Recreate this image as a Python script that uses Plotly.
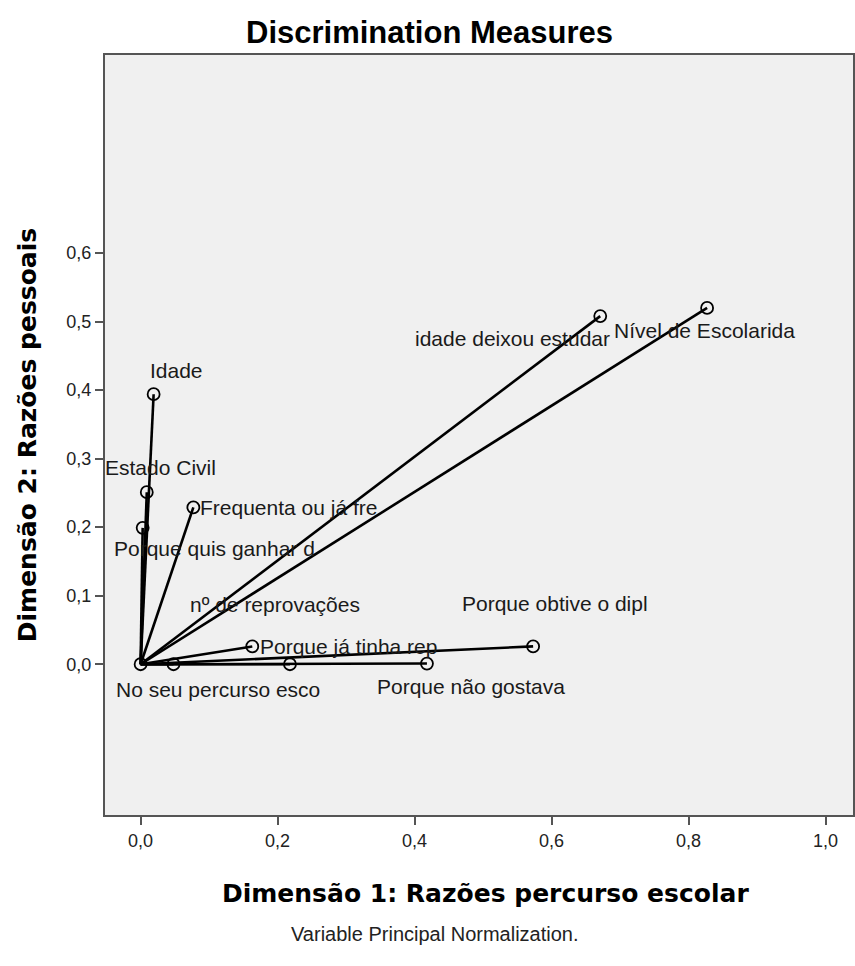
import plotly.graph_objects as go

# Discrimination measures per variable (dimension 1, dimension 2)
variables = [
    "Nível de Escolarida",
    "idade deixou estudar",
    "Idade",
    "Estado Civil",
    "Frequenta ou já fre",
    "Porque quis ganhar d",
    "nº de reprovações",
    "Porque obtive o dipl",
    "Porque já tinha rep",
    "Porque não gostava",
    "No seu percurso esco",
    "",
]
dim1 = [0.827, 0.671, 0.019, 0.009, 0.077, 0.003, 0.218, 0.573, 0.163, 0.418, 0.000, 0.048]
dim2 = [0.520, 0.508, 0.394, 0.251, 0.229, 0.199, 0.000, 0.026, 0.026, 0.001, 0.000, 0.000]

x_ticks = [0.0, 0.2, 0.4, 0.6, 0.8, 1.0]
y_ticks = [0.0, 0.1, 0.2, 0.3, 0.4, 0.5, 0.6]

# label placement (pixel offsets from each point, anchor)
label_style = [
    (-3, 23, "center"),
    (-88, 22, "center"),
    (23, -24, "center"),
    (14, -25, "center"),
    (5, 0, "left"),
    (72, 21, "center"),
    (-15, -60, "center"),
    (22, -43, "center"),
    (6, 0, "left"),
    (44, 23, "center"),
    (77, 25, "center"),
    (0, 0, "center"),
]

fig = go.Figure()

# vectors from the origin
for x, y in zip(dim1, dim2):
    fig.add_trace(go.Scatter(
        x=[0, x], y=[0, y], mode="lines",
        line=dict(color="black", width=2.6),
        hoverinfo="skip", showlegend=False,
    ))

# end points
fig.add_trace(go.Scatter(
    x=dim1, y=dim2, mode="markers",
    marker=dict(symbol="circle-open", size=12, color="black", line=dict(width=1.8)),
    hovertext=variables, showlegend=False,
))

for name, x, y, (dx, dy, anchor) in zip(variables, dim1, dim2, label_style):
    if not name:
        continue
    fig.add_annotation(
        x=x, y=y, xref="x", yref="y", text=name, showarrow=False,
        xanchor=anchor, yanchor="middle", xshift=dx, yshift=-dy,
        font=dict(family="Liberation Sans, Arial", size=21, color="#1a1a1a"),
    )

axis_common = dict(
    showgrid=False, zeroline=False, showline=True, mirror=True,
    linecolor="#555555", linewidth=2,
    ticks="outside", ticklen=8, tickwidth=2, tickcolor="#555555",
    tickfont=dict(family="Liberation Sans, Arial", size=18, color="#222222"),
    tickformat=".1f",
)

fig.update_layout(
    width=855, height=966,
    margin=dict(l=105, r=0, t=55, b=151),
    paper_bgcolor="white", plot_bgcolor="#f0f0f0",
    separators=",.",
    xaxis=dict(range=[-0.052, 1.04], tickvals=x_ticks, **axis_common),
    yaxis=dict(range=[-0.22, 0.889], tickvals=y_ticks, **axis_common),
    showlegend=False,
)

fig.add_annotation(
    text="<b>Discrimination Measures</b>", xref="paper", yref="paper",
    x=(430 - 105) / 750, y=(815 - 32) / 760, showarrow=False,
    xanchor="center", yanchor="middle",
    font=dict(family="Liberation Sans, Arial", size=31, color="black"),
)
fig.add_annotation(
    text="<b>Dimensão 1: Razões percurso escolar</b>", xref="paper", yref="paper",
    x=(487 - 105) / 750, y=-(893 - 815) / 760, showarrow=False,
    xanchor="center", yanchor="middle",
    font=dict(family="DejaVu Sans, Verdana", size=25, color="black"),
)
fig.add_annotation(
    text="<b>Dimensão 2: Razões pessoais</b>", xref="paper", yref="paper",
    x=-(105 - 27) / 750, y=0.5, showarrow=False, textangle=-90,
    xanchor="center", yanchor="middle",
    font=dict(family="DejaVu Sans, Verdana", size=25, color="black"),
)
fig.add_annotation(
    text="Variable Principal Normalization.", xref="paper", yref="paper",
    x=(436 - 105) / 750, y=-(934 - 815) / 760, showarrow=False,
    xanchor="center", yanchor="middle",
    font=dict(family="Liberation Sans, Arial", size=20, color="#222222"),
)

fig.write_html("out.html")
